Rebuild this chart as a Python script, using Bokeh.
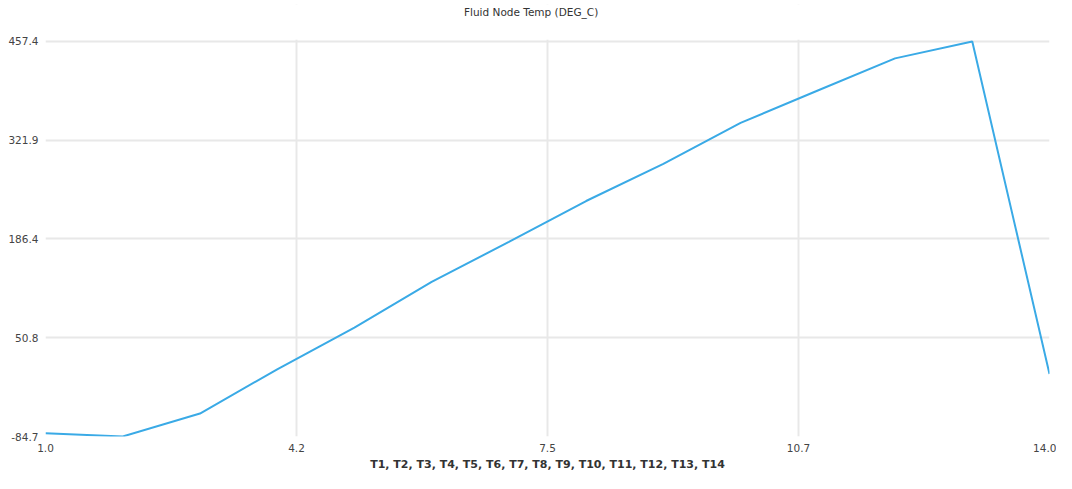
from bokeh.plotting import figure
from bokeh.models import (Range1d, FixedTicker, Legend, LegendItem, ColumnDataSource,
                          BoxAnnotation, CDSView, IndexFilter)
from bokeh.embed import file_html
from bokeh.resources import INLINE

# ---- data ----
nodes = list(range(1, 15))
node_names = ["T1", "T2", "T3", "T4", "T5", "T6", "T7", "T8", "T9", "T10", "T11", "T12", "T13", "T14"]
fluid_temp = [-80.1, -84.7, -53.2, 7.5, 64.7, 127.5, 182.3, 238.4, 289.4, 345.6, 390.1, 434.1, 457.4, 1.1]
x_ticks = [1.0, 4.25, 7.5, 10.75, 14.0]
x_tick_labels = ["1.0", "4.2", "7.5", "10.7", "14.0"]
y_ticks = [-84.7, 50.825, 186.35, 321.875, 457.4]
y_tick_labels = ["-84.7", "50.8", "186.4", "321.9", "457.4"]
series_name = "Fluid Node Temp (DEG_C)"

LINE = "#3aaae6"
GRID = "#e8e8e8"
FONT = "DejaVu Sans"

# layout: frame spans y 4..437 px; data top sits 37 px below frame top (legend lives above it)
ymin, ymax = min(fluid_temp), max(fluid_temp)
span = ymax - ymin
y_end = ymax + span * 37.0 / 396.0
cover_bottom = ymax + span * 1.6 / 396.0

p = figure(width=1056, height=473, output_backend="svg", toolbar_location=None,
           x_range=Range1d(min(nodes), max(nodes)),
           y_range=Range1d(ymin, y_end),
           min_border_left=45, min_border_right=7, min_border_top=4, min_border_bottom=36)
p.outline_line_color = None
p.background_fill_color = "white"
p.border_fill_color = "white"

src = ColumnDataSource(dict(x=nodes, y=fluid_temp))
p.line("x", "y", source=src, line_color=LINE, line_width=2)

# white cover hiding grid above the data top (chart header area)
p.add_layout(BoxAnnotation(bottom=cover_bottom, fill_color="white", fill_alpha=1.0,
                           line_color=None))

# legend-only square marker (all points filtered out of view)
sq = p.scatter("x", "y", source=src, view=CDSView(filter=IndexFilter(indices=[])),
               marker="square", size=8, fill_color="#1e88d0", line_color="#1d3b55", line_width=1)

legend = Legend(items=[LegendItem(label=series_name, renderers=[sq])],
                location=(404, 418), orientation="horizontal",
                glyph_width=12, glyph_height=12, label_height=12,
                label_standoff=3, padding=0, margin=0, spacing=0,
                border_line_color=None, background_fill_alpha=0,
                label_text_font=FONT, label_text_font_size="10.5px",
                label_text_color="#333333")
p.add_layout(legend, "center")

# axes
p.xaxis.ticker = FixedTicker(ticks=x_ticks)
p.xaxis.major_label_overrides = {t: l for t, l in zip(x_ticks, x_tick_labels)}
p.yaxis.ticker = FixedTicker(ticks=y_ticks)
p.yaxis.major_label_overrides = {t: l for t, l in zip(y_ticks, y_tick_labels)}
p.xaxis.axis_label = ", ".join(node_names)

for ax in (p.xaxis, p.yaxis):
    ax.axis_line_color = None
    ax.major_tick_line_color = None
    ax.minor_tick_line_color = None
    ax.major_tick_out = 0
    ax.major_tick_in = 0
    ax.minor_tick_out = 0
    ax.minor_tick_in = 0
    ax.major_label_text_font = FONT
    ax.major_label_text_font_size = "10.5px"
    ax.major_label_text_color = "#444444"
p.xaxis.major_label_standoff = 7
p.yaxis.major_label_standoff = 7
p.xaxis.axis_label_text_font = FONT
p.xaxis.axis_label_text_font_size = "11px"
p.xaxis.axis_label_text_font_style = "bold"
p.xaxis.axis_label_text_color = "#333333"
p.xaxis.axis_label_standoff = 3

p.xgrid.grid_line_color = GRID
p.ygrid.grid_line_color = GRID
p.xgrid.grid_line_width = 2
p.ygrid.grid_line_width = 2

open("out.html", "w").write(file_html(p, INLINE))
